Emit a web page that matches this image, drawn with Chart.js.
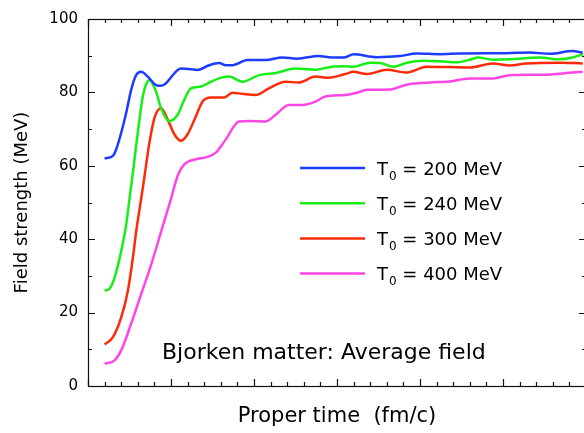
<!DOCTYPE html>
<html>
<head>
<meta charset="utf-8">
<script src="https://cdn.jsdelivr.net/npm/chart.js@4/dist/chart.umd.min.js"></script>
<style>
  html, body { margin: 0; padding: 0; background: #fff; overflow: hidden; }
  canvas { display: block; }
</style>
</head>
<body>
<canvas id="fieldChart" width="590" height="433"></canvas>
<script>
// Initial temperatures, one curve each
const temps = [200, 240, 300, 400];
const colors = ['#1c3cff', '#16ee16', '#ff2a08', '#ff46e4'];

// Proper time (fm/c) and average field (MeV) per curve
const t200 = [1.0, 1.5, 1.7, 2.0, 2.3, 2.6, 2.9, 3.2, 3.6, 4.1, 4.4, 4.7, 5.2, 5.6, 6.2, 6.6, 7.3, 7.9, 8.3, 8.7, 9.6, 10.7, 11.7, 12.6, 13.9, 14.7, 15.5, 16.0, 17.4, 18.8, 19.8, 21.2, 22.4, 25.2, 26.6, 27.8, 29.2, 29.8];
const f200 = [62.0, 62.7, 64.5, 69.0, 74.4, 80.7, 84.7, 85.6, 84.3, 82.0, 81.8, 82.5, 85.2, 86.5, 86.3, 86.1, 87.4, 88.0, 87.4, 87.4, 88.8, 88.8, 89.5, 89.2, 89.9, 89.5, 89.6, 90.4, 89.6, 89.9, 90.6, 90.4, 90.6, 90.7, 90.9, 90.5, 91.3, 90.8];

const t240 = [1.0, 1.3, 1.6, 2.0, 2.3, 2.5, 2.7, 2.9, 3.1, 3.3, 3.5, 3.7, 4.1, 4.4, 4.9, 5.4, 5.8, 6.2, 6.8, 7.4, 8.1, 8.5, 9.3, 10.3, 11.3, 12.5, 13.7, 14.7, 15.5, 16.0, 17.0, 17.6, 18.4, 19.2, 20.2, 21.2, 22.2, 23.0, 23.5, 24.4, 25.4, 27.2, 28.4, 29.2, 29.8];
const f240 = [26.0, 26.5, 29.5, 36.7, 43.9, 51.0, 58.0, 65.5, 72.6, 78.9, 82.2, 83.4, 80.2, 75.7, 72.2, 73.9, 78.0, 81.1, 81.6, 82.9, 84.1, 84.3, 82.9, 84.7, 85.3, 86.5, 86.2, 87.0, 87.1, 87.0, 88.1, 88.0, 87.0, 88.1, 88.6, 88.5, 88.2, 88.9, 89.5, 88.9, 89.0, 89.5, 89.0, 89.5, 90.4];

const t300 = [1.0, 1.5, 2.0, 2.4, 2.7, 2.9, 3.2, 3.4, 3.7, 4.0, 4.4, 4.8, 5.2, 5.6, 6.0, 6.5, 6.9, 7.4, 8.2, 8.7, 9.3, 10.1, 10.9, 11.9, 12.7, 13.7, 14.5, 15.5, 16.0, 16.8, 18.0, 19.2, 20.4, 21.8, 23.0, 24.4, 25.4, 26.4, 28.4, 29.8];
const f300 = [11.3, 13.3, 18.7, 25.9, 34.8, 42.0, 51.0, 57.0, 66.3, 73.0, 75.7, 72.6, 68.6, 66.8, 68.6, 73.5, 77.5, 78.6, 78.6, 79.9, 79.6, 79.3, 81.1, 82.9, 82.7, 84.3, 84.0, 85.0, 85.6, 85.0, 86.2, 85.4, 87.0, 86.9, 86.8, 87.9, 87.3, 87.9, 88.1, 87.9];

const t400 = [1.0, 1.6, 2.0, 2.6, 3.2, 3.8, 4.4, 5.0, 5.4, 5.8, 6.5, 7.1, 7.7, 8.3, 9.1, 9.7, 10.7, 11.3, 12.1, 12.9, 13.7, 14.3, 15.5, 16.2, 16.8, 18.2, 19.2, 20.6, 21.8, 23.0, 24.4, 25.4, 27.4, 29.2, 29.8];
const f400 = [6.1, 7.0, 9.7, 17.0, 25.0, 33.0, 42.0, 51.0, 57.3, 60.4, 61.8, 62.3, 63.6, 67.2, 72.1, 72.2, 72.1, 73.9, 76.6, 76.6, 77.5, 78.9, 79.3, 79.9, 80.7, 80.8, 82.1, 82.7, 83.0, 83.8, 83.8, 84.7, 84.8, 85.4, 85.6];

const times = [t200, t240, t300, t400];
const fields = [f200, f240, f300, f400];

const FONT = "'DejaVu Sans', sans-serif";

// Boxed frame with inward ticks on all four sides
const frameTicks = {
    id: 'frameTicks',
    afterDraw(chart) {
        const { ctx, chartArea: a, scales: { x, y } } = chart;
        ctx.save();
        ctx.strokeStyle = '#111';
        ctx.lineWidth = 1.2;
        ctx.strokeRect(a.left + 0.5, a.top + 0.5, a.right - a.left, a.bottom - a.top);
        ctx.beginPath();
        for (let v = x.min; v <= x.max; v += 1) {
            const px = Math.round(x.getPixelForValue(v)) + 0.5;
            const len = v % 5 === 0 ? 7 : 4;
            ctx.moveTo(px, a.bottom); ctx.lineTo(px, a.bottom - len);
            ctx.moveTo(px, a.top); ctx.lineTo(px, a.top + len);
        }
        for (let v = y.min; v <= y.max; v += 10) {
            const py = Math.round(y.getPixelForValue(v)) + 0.5;
            const len = v % 20 === 0 ? 7 : 4;
            ctx.moveTo(a.left, py); ctx.lineTo(a.left + len, py);
            ctx.moveTo(a.right, py); ctx.lineTo(a.right - len, py);
        }
        ctx.stroke();
        ctx.restore();
    }
};

// Legend with subscripted T0, plus the caption
const annotations = {
    id: 'annotations',
    afterDraw(chart) {
        const { ctx } = chart;
        ctx.save();
        chart.data.datasets.forEach((ds, i) => {
            const ly = 168 + i * 35.2;
            ctx.strokeStyle = ds.borderColor;
            ctx.lineWidth = 2.5;
            ctx.beginPath();
            ctx.moveTo(300, ly);
            ctx.lineTo(365, ly);
            ctx.stroke();

            const base = ly + 6.6;
            ctx.fillStyle = '#000';
            ctx.textBaseline = 'alphabetic';
            ctx.font = `18px ${FONT}`;
            ctx.fillText('T', 377, base);
            let cx = 377 + ctx.measureText('T').width + 1;
            ctx.font = `12px ${FONT}`;
            ctx.fillText('0', cx, base + 5);
            cx += ctx.measureText('0').width;
            ctx.font = `18px ${FONT}`;
            ctx.fillText(` = ${temps[i]} MeV`, cx, base);
        });
        ctx.font = `22px ${FONT}`;
        ctx.fillStyle = '#000';
        ctx.fillText('Bjorken matter: Average field', 162, 359);
        ctx.restore();
    }
};

new Chart(document.getElementById('fieldChart'), {
    type: 'line',
    data: {
        datasets: temps.map((T, i) => ({
            label: `T0 = ${T} MeV`,
            data: times[i].map((t, k) => ({ x: t, y: fields[i][k] })),
            borderColor: colors[i],
            borderWidth: 2.5,
            pointRadius: 0,
            fill: false,
            cubicInterpolationMode: 'monotone'
        }))
    },
    options: {
        responsive: false,
        animation: false,
        layout: { padding: { top: 15, right: 4, left: 0, bottom: 0 } },
        plugins: { legend: { display: false }, tooltip: { enabled: false } },
        scales: {
            x: {
                type: 'linear',
                min: 0,
                max: 30,
                grid: { display: false, drawTicks: false },
                border: { display: false },
                ticks: { display: false },
                title: {
                    display: true,
                    text: 'Proper time  (fm/c)',
                    color: '#000',
                    font: { family: FONT, size: 21 },
                    padding: { top: 0, bottom: 4 }
                },
                afterFit: s => { s.height = 47; }
            },
            y: {
                min: 0,
                max: 100,
                grid: { display: false, drawTicks: false },
                border: { display: false },
                ticks: { stepSize: 20, padding: 10, color: '#000', font: { family: FONT, size: 15 } },
                title: {
                    display: true,
                    text: 'Field strength (MeV)',
                    color: '#000',
                    font: { family: FONT, size: 18 },
                    padding: { top: 12, bottom: 0 }
                },
                afterFit: s => { s.width = 88; }
            }
        }
    },
    plugins: [frameTicks, annotations]
});
</script>
</body>
</html>
